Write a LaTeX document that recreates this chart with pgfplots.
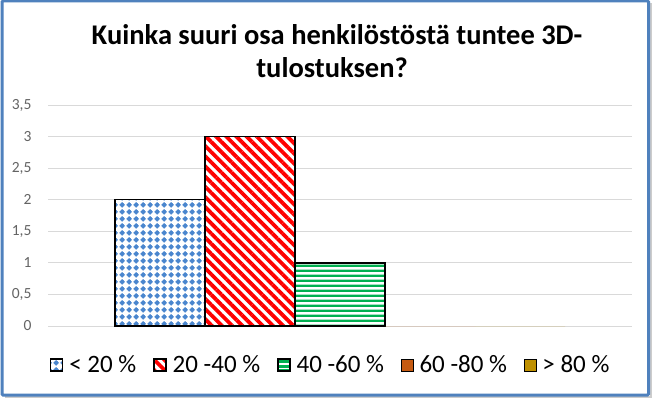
\documentclass[border=0pt]{standalone}
\usepackage{fontspec}
\setmainfont{Carlito}
\usepackage{pgfplots}
\pgfplotsset{compat=1.18}
\usetikzlibrary{patterns.meta}
\definecolor{frameblue}{RGB}{79,129,189}
\definecolor{dotblue}{RGB}{74,134,206}
\definecolor{stripered}{RGB}{255,0,0}
\definecolor{stripegreen}{RGB}{0,176,80}
\definecolor{cbrown}{RGB}{197,90,17}
\definecolor{cgold}{RGB}{191,144,0}
\definecolor{gridgray}{RGB}{217,217,217}
\definecolor{tickgray}{RGB}{100,100,100}
\tikzdeclarepattern{
  name=plusdots, type=uncolored,
  bottom left={(0pt,0pt)}, top right={(6.6pt,6.6pt)},
  tile size={(6.6pt,6.6pt)},
  code={
    \fill (3.3pt,3.3pt) circle (2.3pt);
    \fill (0.5pt,2.75pt) rectangle (6.1pt,3.85pt);
    \fill (2.75pt,0.5pt) rectangle (3.85pt,6.1pt);
  }
}
\tikzdeclarepattern{
  name=hstripes, type=uncolored,
  bottom left={(0pt,0pt)}, top right={(700pt,4.5pt)},
  tile size={(700pt,4.5pt)},
  code={\fill (0pt,0pt) rectangle (700pt,2.6pt);}
}
\begin{document}
\begin{tikzpicture}[x=1pt,y=1pt]
\useasboundingbox (0,0) rectangle (653,399);
\fill[white] (0,0) rectangle (653,399);
\draw[gray!40, line width=2pt] (5,2) -- (651,2) -- (651,396);
\draw[frameblue, line width=3pt, rounded corners=1pt] (2,4) rectangle (648.5,398);
\node[font=\bfseries\fontsize{28.5}{32}\selectfont, anchor=base] at (337,354)
  {Kuinka suuri osa henkilöstöstä tuntee 3D-};
\node[font=\bfseries\fontsize{28.5}{32}\selectfont, anchor=base] at (332,321)
  {tulostuksen?};
\begin{axis}[
  at={(48pt,73pt)}, anchor=south west, scale only axis,
  width=584pt, height=221pt,
  ymin=0, ymax=3.5, xmin=-1, xmax=1,
  ytick={0,0.5,1,1.5,2,2.5,3,3.5},
  xtick=\empty,
  ybar=0pt, bar width=90pt,
  ymajorgrids, grid style={color=gridgray, line width=0.8pt},
  axis line style={draw=none},
  major tick length=0pt,
  yticklabel style={font=\fontsize{15.5}{18}\selectfont, color=tickgray, xshift=-13pt},
  /pgf/number format/.cd, use comma, 1000 sep={}, assume math mode=true,
  /pgfplots/.cd,
  legend columns=5,
  legend style={draw=none, fill=none, at={(0.484,-0.176)}, anchor=center,
    font=\fontsize{25}{28}\selectfont,
    /tikz/every odd column/.append style={column sep=4pt},
    /tikz/every even column/.append style={column sep=15pt}},
  legend image code/.code={\draw[#1] (0pt,-6pt) rectangle (12pt,6pt);},
]
\addplot[draw=black, line width=1.4pt, fill=white,
  postaction={pattern=plusdots, pattern color=dotblue}]
  coordinates {(0,2)};
\addlegendentry{< 20 \%}
\addplot[draw=black, line width=1.4pt, fill=white,
  postaction={pattern={Lines[angle=-45, distance=7.2pt, line width=3.8pt]}, pattern color=stripered}]
  coordinates {(0,3)};
\addlegendentry{20 -40 \%}
\addplot[draw=black, line width=1.4pt, fill=white,
  postaction={pattern=hstripes, pattern color=stripegreen}]
  coordinates {(0,1)};
\addlegendentry{40 -60 \%}
\addplot[draw=none, fill=cbrown] coordinates {(0,0)};
\addlegendentry{60 -80 \%}
\addplot[draw=none, fill=cgold] coordinates {(0,0)};
\addlegendentry{> 80 \%}
\end{axis}
\end{tikzpicture}
\end{document}
